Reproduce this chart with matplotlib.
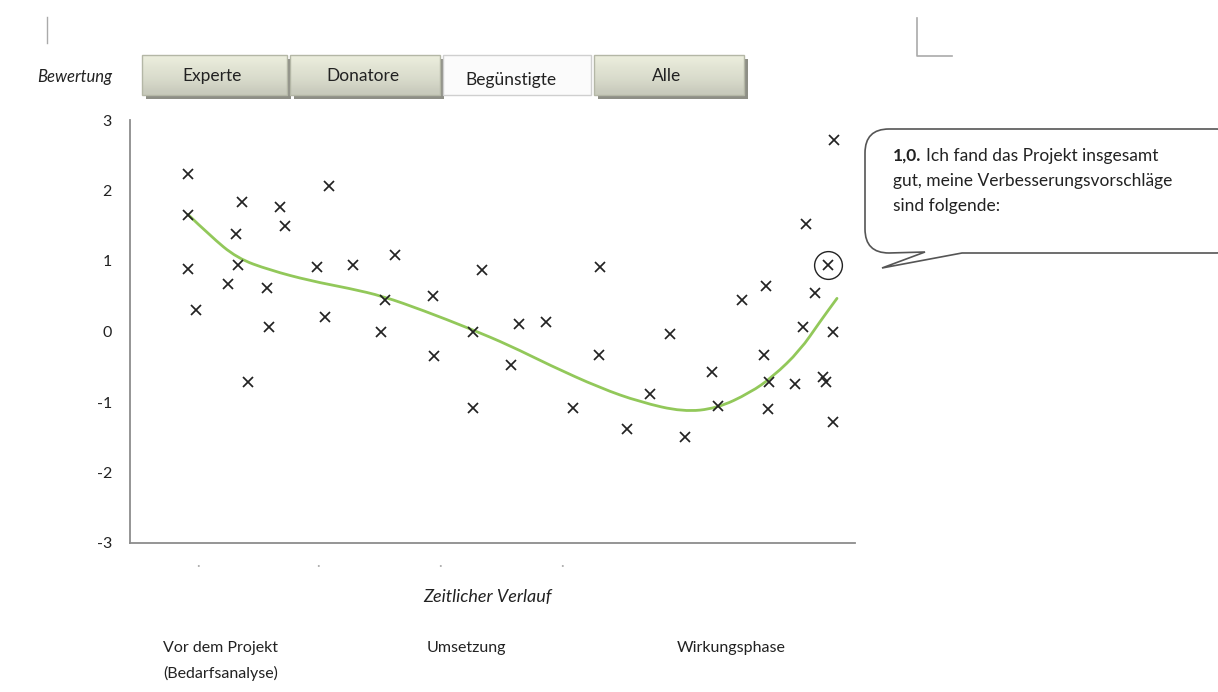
import numpy as np
import matplotlib.pyplot as plt
from matplotlib.path import Path
from matplotlib.patches import PathPatch, Rectangle

plt.rcParams['font.family'] = ['Lato', 'DejaVu Sans']

# Bewertungen (x = Zeitpunkt, y = Bewertung -3..3)
zeit = [58, 58, 58, 66, 98, 106, 108, 112, 118, 137, 139, 150, 155, 187, 195, 199,
        223, 251, 255, 265, 303, 304, 343, 343, 352, 381, 389, 416, 443, 469, 470,
        497, 520, 540, 555, 582, 588, 612, 634, 636, 638, 639, 665, 673, 676, 685,
        693, 696, 698, 703, 703, 704]
bewertung = [2.24, 1.65, 0.89, 0.30, 0.67, 1.38, 0.95, 1.83, -0.72, 0.61, 0.07, 1.76,
             1.50, 0.92, 0.21, 2.07, 0.95, 0.0, 0.44, 1.08, 0.50, -0.35, 0.0, -1.09,
             0.87, -0.48, 0.11, 0.13, -1.09, -0.34, 0.92, -1.38, -0.89, -0.04, -1.49,
             -0.57, -1.05, 0.44, -0.33, 0.64, -1.10, -0.72, -0.75, 0.06, 1.52, 0.54,
             -0.64, -0.71, 0.95, -0.01, -1.28, 2.72]

# Trendlinie
trend_x = [58, 80, 107, 140, 180, 220, 253, 293, 340, 380, 420, 470, 510, 553, 587,
           620, 643, 670, 690, 707]
trend_y = [1.66, 1.36, 1.04, 0.87, 0.72, 0.61, 0.50, 0.30, 0.04, -0.20, -0.48, -0.80,
           -1.00, -1.14, -1.09, -0.87, -0.64, -0.27, 0.14, 0.47]

# ausgewaehlter Punkt
sel_x, sel_y = 698, 0.95

phasen_x = [68, 188, 310, 432]
buttons = ['Experte', 'Donatore', 'Begünstigte', 'Alle']

fig = plt.figure(figsize=(12.18, 6.92), dpi=100)

# Hintergrund-Ebene in Pixelkoordinaten
bg = fig.add_axes([0, 0, 1, 1])
bg.axis('off')

ax = fig.add_axes([130 / 1218, 1 - 543 / 692, 725 / 1218, 423 / 692])
ax.set_facecolor('none')
ax.set_xlim(0, 725)
ax.set_ylim(-3, 3)

# Trendlinie geglaettet (quadratische Kurvenstuecke durch die Mittelpunkte)
pts = list(zip(trend_x, trend_y))
verts = [pts[0]]
codes = [Path.MOVETO]
for i in range(1, len(pts) - 1):
    mid = ((pts[i][0] + pts[i + 1][0]) / 2, (pts[i][1] + pts[i + 1][1]) / 2)
    verts += [pts[i], mid]
    codes += [Path.CURVE3, Path.CURVE3]
verts.append(pts[-1])
codes.append(Path.LINETO)
ax.add_patch(PathPatch(Path(verts, codes), fc='none', ec='#92c85a', lw=2.0,
                       capstyle='round', zorder=2))

ax.plot(zeit, bewertung, 'x', color='#222222', ms=7, mew=1.25, zorder=3)
ax.plot([sel_x], [sel_y], 'o', mfc='none', mec='#222222', ms=20, mew=1.0, zorder=3)

for s in ['top', 'right']:
    ax.spines[s].set_visible(False)
for s in ['left', 'bottom']:
    ax.spines[s].set_color('#8c8c8c')
    ax.spines[s].set_linewidth(1.3)
ax.set_yticks([-3, -2, -1, 0, 1, 2, 3])
ax.set_yticklabels(['-3', '-2', '-1', '0', '1', '2', '3'], fontsize=11.5)
ax.tick_params(axis='y', length=0, pad=13, labelcolor='#222222')
ax.set_xticks(phasen_x)
ax.set_xticklabels(['·'] * 4, color='#aaaaaa', fontsize=10)
ax.tick_params(axis='x', length=0, pad=12)

# Buttons
bx = [(142, 287), (290, 440), (443, 591), (594, 744)]
grad = np.array([[0.94], [0.91], [0.89], [0.87], [0.84], [0.80]])
img = np.dstack([grad * 0.98, grad * 0.99, grad * 0.92])
for (x0, x1), name in zip(bx, buttons):
    xc = (x0 + x1) / 2
    if name == 'Begünstigte':
        bg.add_patch(Rectangle((x0, 55), x1 - x0, 40, fc='#fbfbfb', ec='#cfcfcf',
                               lw=1, zorder=2))
        bg.text(xc - 6, 80, name, ha='center', va='center', fontsize=12.5,
                color='#222222', zorder=4)
    else:
        bg.add_patch(Rectangle((x0 + 4, 59), x1 - x0, 40, fc='#8e8f86', ec='none',
                               zorder=1))
        bg.imshow(img, extent=(x0, x1, 95, 55), aspect='auto',
                  interpolation='bicubic', zorder=2)
        bg.add_patch(Rectangle((x0, 55), x1 - x0, 40, fc='none', ec='#b4b7a6',
                               lw=1, zorder=3))
        bg.text(xc - 2, 76, name, ha='center', va='center', fontsize=12.5,
                color='#222222', zorder=4)

# Sprechblase
r = 24
L, R, T, B = 865, 1240, 129, 253
verts = [(L + r, T), (R - r, T), (R, T), (R, T + r), (R, B - r), (R, B), (R - r, B),
         (962, B), (882, 268), (925, B - 1), (L + r, B), (L, B), (L, B - r),
         (L, T + r), (L, T), (L + r, T), (L + r, T)]
codes = [Path.MOVETO, Path.LINETO, Path.CURVE3, Path.CURVE3, Path.LINETO, Path.CURVE3,
         Path.CURVE3, Path.LINETO, Path.LINETO, Path.LINETO, Path.LINETO, Path.CURVE3,
         Path.CURVE3, Path.LINETO, Path.CURVE3, Path.CURVE3, Path.CLOSEPOLY]
bg.add_patch(PathPatch(Path(verts, codes), fc='white', ec='#555555', lw=1.2, zorder=2))
fs = 12.5
bg.text(893, 156, '1,0.', fontsize=fs, fontweight='bold', va='center', color='#222222', zorder=4)
bg.text(926, 156, 'Ich fand das Projekt insgesamt', fontsize=fs, va='center', color='#222222', zorder=4)
bg.text(893, 181, 'gut, meine Verbesserungsvorschläge', fontsize=fs, va='center', color='#222222', zorder=4)
bg.text(893, 206, 'sind folgende:', fontsize=fs, va='center', color='#222222', zorder=4)

# kleine Markierungen oben
bg.plot([47, 47], [17, 43], color='#aaaaaa', lw=1)
bg.plot([917, 917, 952], [18, 56, 56], color='#aaaaaa', lw=1.2)

# Beschriftungen
bg.text(37, 77, 'Bewertung', fontsize=12, style='italic', va='center', color='#222222')
bg.text(487, 597, 'Zeitlicher Verlauf', fontsize=13, style='italic', ha='center', va='center', color='#222222')
bg.text(163, 648, 'Vor dem Projekt', fontsize=11.5, va='center', color='#222222')
bg.text(163, 673, '(Bedarfsanalyse)', fontsize=11.5, va='center', color='#222222')
bg.text(427, 648, 'Umsetzung', fontsize=11.5, va='center', color='#222222')
bg.text(677, 648, 'Wirkungsphase', fontsize=11.5, va='center', color='#222222')

bg.set_xlim(0, 1218)
bg.set_ylim(692, 0)

fig.savefig('out.png', dpi=100)
